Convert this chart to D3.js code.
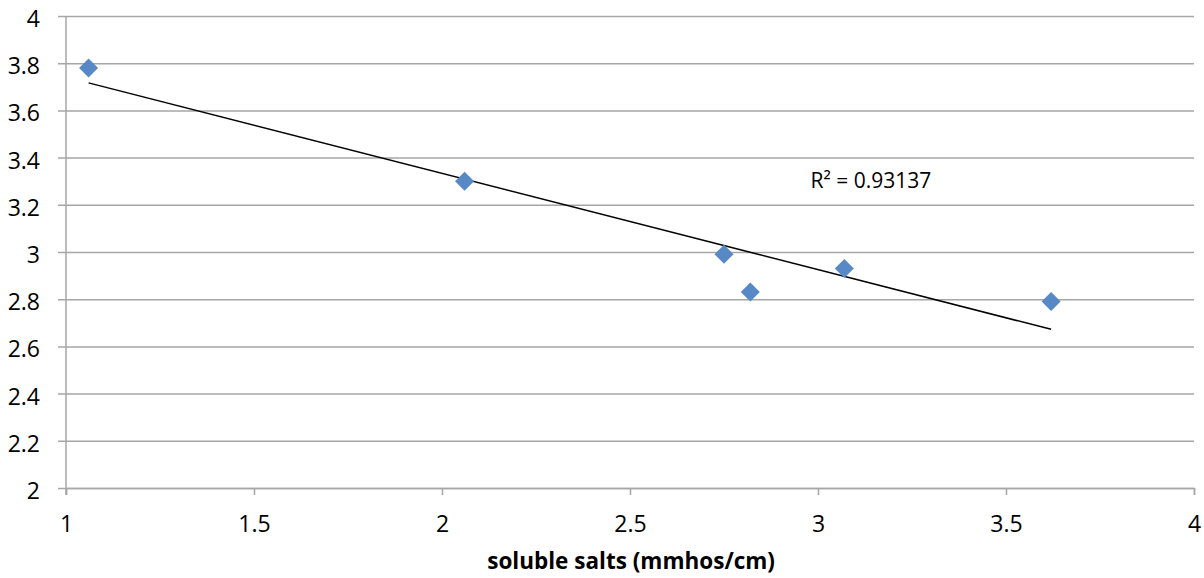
<!DOCTYPE html>
<html>
<head>
<meta charset="utf-8">
<script src="https://cdn.jsdelivr.net/npm/d3@7"></script>
<style>
  body { margin: 0; background: #fff; }
  text { font-family: 'Open Sans', 'Noto Sans', sans-serif; }
</style>
</head>
<body>
<div id="graf"></div>
<script>
// datos
salts  = [1.06, 2.06, 2.75, 2.82, 3.07, 3.62]
valores = [3.78, 3.30, 2.99, 2.83, 2.93, 2.79]
xTicks = [1, 1.5, 2, 2.5, 3, 3.5, 4]
yTicks = [2, 2.2, 2.4, 2.6, 2.8, 3, 3.2, 3.4, 3.6, 3.8, 4]
r2Label = 'R² = 0.93137'
xTitulo = 'soluble salts (mmhos/cm)'

ancho_total = 1204
alto_total = 578
margins = { top: 16, left: 66, right: 10, bottom: 90 }
ancho = ancho_total - margins.left - margins.right
alto = alto_total - margins.top - margins.bottom

svg = d3.select('#graf').append('svg')
  .attr('width', ancho_total)
  .attr('height', alto_total)

g = svg.append('g')
  .attr('transform', `translate(${margins.left}, ${margins.top})`)

x = d3.scaleLinear().domain([1, 4]).range([0, ancho])
y = d3.scaleLinear().domain([2, 4]).range([alto, 0])

gris = '#a6a6a6'

// lineas horizontales de la rejilla con marcas a la izquierda
yAxisG = d3.axisLeft(y)
  .tickValues(yTicks)
  .tickSize(-ancho)
  .tickFormat('')
g.append('g')
  .call(yAxisG)
  .call(s => s.select('.domain').remove())
  .call(s => s.selectAll('line').attr('stroke', gris).attr('stroke-width', 1.5).attr('x1', -8))

// etiquetas del eje Y
yAxis = d3.axisLeft(y)
  .tickValues(yTicks)
  .tickSize(0)
  .tickPadding(26)
  .tickFormat(d => +d.toFixed(1))
g.append('g')
  .call(yAxis)
  .call(s => s.select('.domain').remove())
  .call(s => s.selectAll('text').attr('font-size', '23px').attr('fill', '#000').attr('dy', '0.46em'))

// linea del eje Y
g.append('line')
  .attr('x1', 0).attr('x2', 0)
  .attr('y1', 0).attr('y2', alto + 7)
  .attr('stroke', gris).attr('stroke-width', 1.5)

// eje X
xAxis = d3.axisBottom(x)
  .tickValues(xTicks)
  .tickSize(7)
  .tickPadding(21)
  .tickFormat(d => d)
g.append('g')
  .attr('transform', `translate(0, ${alto})`)
  .call(xAxis)
  .call(s => s.select('.domain').attr('stroke', gris).attr('stroke-width', 1.5))
  .call(s => s.selectAll('line').attr('stroke', gris).attr('stroke-width', 1.5))
  .call(s => s.selectAll('text').attr('font-size', '23px').attr('fill', '#000'))

// titulo eje X
g.append('text')
  .attr('x', x(2.503))
  .attr('y', alto + 81)
  .attr('text-anchor', 'middle')
  .attr('font-size', '22.5px')
  .attr('font-weight', 'bold')
  .text(xTitulo)

// linea de tendencia (minimos cuadrados)
mx = d3.mean(salts)
my = d3.mean(valores)
pend = d3.sum(salts, (d, i) => (d - mx) * (valores[i] - my)) / d3.sum(salts, d => (d - mx) * (d - mx))
inter = my - pend * mx
x0 = d3.min(salts)
x1 = d3.max(salts)
g.append('line')
  .attr('x1', x(x0)).attr('y1', y(inter + pend * x0))
  .attr('x2', x(x1)).attr('y2', y(inter + pend * x1))
  .attr('stroke', '#000').attr('stroke-width', 1.5)

// puntos en forma de rombo
g.selectAll('path.punto')
  .data(salts)
  .enter()
  .append('path')
  .attr('class', 'punto')
  .attr('d', d3.symbol().type(d3.symbolDiamond2).size(230))
  .attr('transform', (d, i) => `translate(${x(d)}, ${y(valores[i])})`)
  .attr('fill', '#5689c6')

// etiqueta R²
g.append('text')
  .attr('x', x(2.98))
  .attr('y', y(3.27))
  .attr('font-size', '21px')
  .text(r2Label)
</script>
</body>
</html>
